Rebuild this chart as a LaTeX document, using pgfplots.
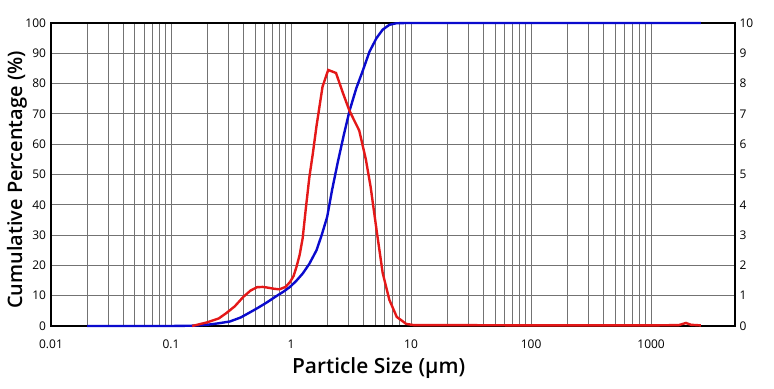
\documentclass[border=0pt]{standalone}
\usepackage{pgfplots}
\pgfplotsset{compat=1.18}
\usepackage{fontspec}
\setmainfont{Open Sans}
\newfontfamily\semib{Open Sans Semibold}
\definecolor{gridc}{RGB}{115,115,115}
\definecolor{cumblue}{RGB}{10,10,205}
\definecolor{freqred}{RGB}{228,24,24}
\begin{document}
\begin{tikzpicture}
\useasboundingbox (-51bp,-63bp) rectangle (723bp,326bp);
\begin{semilogxaxis}[
  scale only axis, width=684bp, height=303bp,
  xmin=0.01, xmax=5000, ymin=0, ymax=100,
  xtick={0.01,0.1,1,10,100,1000},
  xticklabels={0.01,0.1,1,10,100,1000},
  ytick={0,10,...,100},
  grid=both,
  major grid style={gridc, line width=0.8bp},
  minor grid style={gridc, line width=0.8bp},
  major tick length=0pt, minor tick length=0pt,
  axis line style={black, line width=1.4bp},
  ticklabel style={font=\fontsize{12}{14}\selectfont},
  /pgf/number format/assume math mode=true,
  xticklabel style={anchor=base, yshift=-22bp},
  yticklabel style={anchor=east, xshift=-1.5bp},
  xlabel={Particle Size (µm)},
  ylabel={Cumulative Percentage (\%)},
  xlabel style={font=\semib\fontsize{21}{24}\selectfont, at={(axis description cs:0.479,-0.1386)}, anchor=center},
  ylabel style={font=\semib\fontsize{20}{23}\selectfont, at={(axis description cs:-0.0497,0.482)}, anchor=center},
  clip=false,
]
\addplot[cumblue, line width=2.4bp] coordinates {
(0.02,0) (0.1,0) (0.15,0.1) (0.2,0.4) (0.25,0.9) (0.31,1.5) (0.38,2.8)
(0.45,4.4) (0.53,6.0) (0.63,7.8) (0.75,9.8) (0.87,11.4) (0.98,12.9)
(1.1,14.8) (1.25,17.3) (1.42,20.5) (1.63,25) (1.8,30) (2.0,36) (2.2,45)
(2.45,54) (2.75,63) (3.07,71) (3.5,78.5) (3.94,84) (4.5,90.5) (5.15,95)
(5.8,97.8) (6.6,99.4) (7.5,99.9) (9,100) (20,100) (100,100) (2600,100)
};
\end{semilogxaxis}
\begin{semilogxaxis}[
  scale only axis, width=684bp, height=303bp,
  xmin=0.01, xmax=5000, ymin=0, ymax=10,
  axis y line*=right, axis x line=none,
  ytick={0,1,...,10},
  major tick length=0pt, minor tick length=0pt,
  axis line style={black, line width=1.4bp},
  ticklabel style={font=\fontsize{12}{14}\selectfont},
  /pgf/number format/assume math mode=true,
  yticklabel style={anchor=west, xshift=1bp},
  clip=false,
]
\addplot[freqred, line width=2.4bp] coordinates {
(0.15,0) (0.2,0.12) (0.25,0.25) (0.29,0.43) (0.34,0.65) (0.40,0.96)
(0.46,1.17) (0.52,1.28) (0.58,1.29) (0.63,1.27) (0.72,1.23) (0.80,1.21)
(0.9,1.29) (0.98,1.45) (1.05,1.65) (1.11,1.95) (1.18,2.35) (1.25,2.9)
(1.33,3.9) (1.42,4.9) (1.52,5.7) (1.63,6.6) (1.83,7.9) (2.04,8.45) (2.37,8.35)
(2.7,7.7) (3.07,7.1) (3.7,6.45) (4.2,5.5) (4.6,4.6) (5.2,3.07)
(5.8,1.75) (6.6,0.86) (7.6,0.3) (9.1,0.07) (10.5,0.03) (20,0.03)
(100,0.02) (1000,0.02) (1700,0.03) (1950,0.1) (2150,0.04) (2600,0.02)
};
\end{semilogxaxis}
\end{tikzpicture}
\end{document}
